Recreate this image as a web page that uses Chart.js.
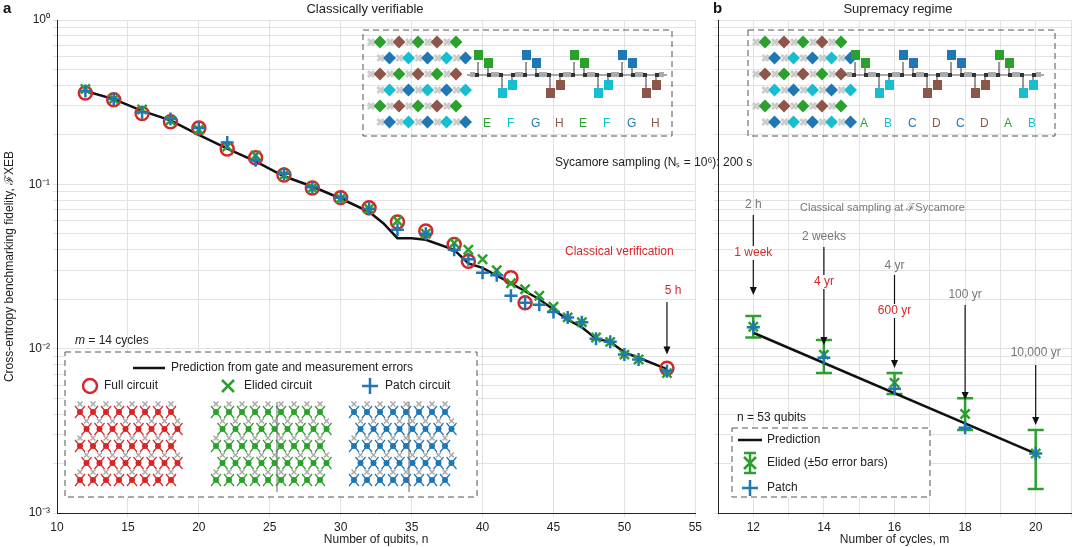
<!DOCTYPE html>
<html><head><meta charset="utf-8">
<script src="https://cdn.jsdelivr.net/npm/chart.js@4.4.0/dist/chart.umd.min.js"></script>
<style>body{margin:0;background:#fff;width:1080px;height:547px;overflow:hidden;position:relative;font-family:"Liberation Sans",Arial,sans-serif}
#wa{position:absolute;left:0;top:0;width:705px;height:547px}#wb{position:absolute;left:705px;top:0;width:375px;height:547px}</style>
</head><body>
<div id="wa"><canvas id="ca"></canvas></div><div id="wb"><canvas id="cb"></canvas></div>
<script>
const qubitsFull=[12,14,16,18,20,22,24,26,28,30,32,34,36,38,39,42,43,53];
const fullVals=[0.36,0.327,0.27,0.24,0.22,0.164,0.145,0.114,0.095,0.083,0.072,0.059,0.052,0.043,0.034,0.027,0.019,0.0076];
const qubitsElided=[12,14,16,18,20,22,24,26,28,30,32,34,36,38,39,40,41,42,43,44,45,46,47,48,49,50,51,53];
const elidedVals=[0.38,0.33,0.285,0.245,0.215,0.17,0.15,0.114,0.095,0.082,0.071,0.06,0.05,0.044,0.04,0.035,0.030,0.025,0.023,0.021,0.018,0.0155,0.0145,0.0117,0.011,0.0092,0.0086,0.0071];
const qubitsPatch=[12,14,16,18,20,22,24,26,28,30,32,34,36,38,39,40,41,42,43,44,45,46,47,48,49,50,51,53];
const patchVals=[0.37,0.33,0.275,0.25,0.22,0.18,0.14,0.116,0.096,0.083,0.071,0.053,0.05,0.04,0.035,0.029,0.028,0.021,0.019,0.0185,0.0167,0.0155,0.0145,0.0115,0.011,0.0092,0.0086,0.0073];
const qubitsPred=[12,14,16,18,20,22,24,26,28,30,32,33,34,35,36,38,39,40,42,44,46,47,48,49,50,51,53];
const predVals=[0.37,0.33,0.28,0.245,0.20,0.165,0.138,0.112,0.097,0.082,0.068,0.058,0.047,0.047,0.046,0.040,0.033,0.031,0.025,0.020,0.015,0.0135,0.0115,0.011,0.0095,0.0088,0.0075];
const cycles=[12,14,16,18,20];
const elidedCyc=[0.0136,0.0092,0.0062,0.0040,0.0023];
const elidedLo=[0.0117,0.0071,0.0053,0.0032,0.0014];
const elidedHi=[0.0158,0.0113,0.0071,0.0050,0.0032];
const patchCyc=[0.0135,0.0088,0.0057,0.0033,0.0023];
const predCyc=[0.0125,0.0023];
const predCycX=[12,20];
const yTicks={1:'10⁰',0.1:'10⁻¹',0.01:'10⁻²',0.001:'10⁻³'};

const G='#2ca02c',C='#17becf',B='#1f77b4',R='#d62728',BR='#8c564b';
const pts=(xs,ys)=>xs.map((x,i)=>({x,y:ys[i]}));
Chart.defaults.font.family='"Liberation Sans",Arial,sans-serif';
Chart.defaults.color='#222';

function dash(ctx,x,y,w,h){ctx.save();ctx.setLineDash([6,4]);ctx.strokeStyle='#555';ctx.lineWidth=1;ctx.strokeRect(x,y,w,h);ctx.restore();}
function txt(ctx,s,x,y,col,size,align,font){ctx.save();ctx.fillStyle=col||'#222';ctx.font=(font||'')+' '+(size||12)+'px "Liberation Sans",Arial,sans-serif';ctx.textAlign=align||'left';ctx.textBaseline='middle';ctx.fillText(s,x,y);ctx.restore();}
function arrow(ctx,x,y1,y2){ctx.save();ctx.strokeStyle='#111';ctx.fillStyle='#111';ctx.lineWidth=1.2;ctx.beginPath();ctx.moveTo(x,y1);ctx.lineTo(x,y2-6);ctx.stroke();ctx.beginPath();ctx.moveTo(x,y2);ctx.lineTo(x-3.5,y2-8);ctx.lineTo(x+3.5,y2-8);ctx.closePath();ctx.fill();ctx.restore();}
function diamond(ctx,x,y,s,col){ctx.fillStyle=col;ctx.beginPath();ctx.moveTo(x,y-s);ctx.lineTo(x+s,y);ctx.lineTo(x,y+s);ctx.lineTo(x-s,y);ctx.closePath();ctx.fill();}
function xmark(ctx,x,y,s,col,w){ctx.strokeStyle=col;ctx.lineWidth=w||2;ctx.beginPath();ctx.moveTo(x-s,y-s);ctx.lineTo(x+s,y+s);ctx.moveTo(x+s,y-s);ctx.lineTo(x-s,y+s);ctx.stroke();}
function grid(ctx,gx,gy){const cols=[G,B,BR,C];ctx.save();
 for(let r=0;r<6;r++)for(let c=0;c<5;c++){const x=gx+c*19+(r%2)*9.5,y=gy+r*16;xmark(ctx,x-9,y,3,'#ccc',3);}
 for(let r=0;r<6;r++)for(let c=0;c<5;c++){const x=gx+c*19+(r%2)*9.5,y=gy+r*16;diamond(ctx,x,y,6.5,cols[(r+c*2)%4]);}
 ctx.restore();}
function circuit(ctx,x0,letters,map){ctx.save();ctx.strokeStyle='#555';ctx.lineWidth=1;ctx.beginPath();ctx.moveTo(x0-16,75);ctx.lineTo(x0+24*7+16,75);ctx.stroke();
 for(let i=0;i<8;i++){const x=x0+i*24;ctx.fillStyle='#aaa';ctx.fillRect(x-13,72,5,5);ctx.fillRect(x+8,72,5,5);
  const col=map[letters[i]];const up=(i%2==0);ctx.strokeStyle='#333';ctx.beginPath();
  ctx.moveTo(x-5,75);ctx.lineTo(x-5,up?62:88);ctx.moveTo(x+5,75);ctx.lineTo(x+5,up?62:88);ctx.stroke();
  ctx.fillStyle=col;ctx.fillRect(x-9,up?50:88,9,10);ctx.fillRect(x+1,up?58:80,9,10);
  ctx.fillStyle='#333';ctx.fillRect(x-8,73,4,4);ctx.fillRect(x+4,73,4,4);
  txt(ctx,letters[i],x,124,col,12);}
 ctx.restore();}
function lattice(ctx,x0,y0,col,cols,split){ctx.save();for(let r=0;r<5;r++)for(let c=0;c<cols;c++){const x=x0+c*13+(r%2)*6.5,y=y0+r*17;xmark(ctx,x,y-8,2.5,'#aaa',1.5);}
 for(let r=0;r<5;r++)for(let c=0;c<cols;c++){const x=x0+c*13+(r%2)*6.5,y=y0+r*17;ctx.fillStyle=col;ctx.beginPath();ctx.arc(x,y,3,0,7);ctx.fill();ctx.strokeStyle=col;ctx.lineWidth=1.2;ctx.beginPath();ctx.moveTo(x-5,y+6);ctx.lineTo(x+5,y-6);ctx.moveTo(x-5,y-6);ctx.lineTo(x+5,y+6);ctx.stroke();}
 if(split){ctx.strokeStyle='#666';ctx.lineWidth=1;ctx.beginPath();ctx.moveTo(split,y0-10);ctx.lineTo(split,y0+80);ctx.stroke();}
 ctx.restore();}

const logY=(show,w)=>({type:'logarithmic',min:0.001,max:1,
  ticks:{display:show,autoSkip:false,font:{size:12},color:'#222',callback:v=>yTicks[v]||''},
  afterBuildTicks:s=>{const t=[];for(let e=-3;e<0;e++)for(let k=1;k<10;k++)t.push({value:k*Math.pow(10,e)});t.push({value:1});s.ticks=t;},
  grid:{color:'#e2e2e2',drawTicks:true,tickLength:4},border:{color:'#222'},
  title:{display:show,text:'Cross-entropy benchmarking fidelity, ℱXEB',font:{size:12},padding:2},
  afterFit:s=>{s.width=w;}});

const plugA={id:'a',afterDraw(ch){const ctx=ch.ctx,xs=ch.scales.x,ys=ch.scales.y;
 txt(ctx,'a',3,9,'#111',15,'left','bold');txt(ctx,'Classically verifiable',365,9,'#222',13,'center');
 dash(ctx,363,30,309,106);grid(ctx,380,42);circuit(ctx,483,'EFGHEFGH',{E:G,F:C,G:B,H:BR});
 txt(ctx,'Classical verification',565,252,R,12,'left');txt(ctx,'5 h',673,291,R,12,'center');arrow(ctx,xs.getPixelForValue(53),302,ys.getPixelForValue(0.0092));
 ctx.save();ctx.font='italic 12px "Liberation Sans",Arial';ctx.fillStyle='#222';ctx.textBaseline='middle';ctx.fillText('m',75,341);ctx.font='12px "Liberation Sans",Arial';ctx.fillText(' = 14 cycles',85,341);ctx.restore();
 ctx.save();ctx.fillStyle='#fff';ctx.fillRect(65,352,412,145);ctx.restore();dash(ctx,65,352,412,145);
 ctx.save();ctx.strokeStyle='#111';ctx.lineWidth=2.5;ctx.beginPath();ctx.moveTo(133,368);ctx.lineTo(165,368);ctx.stroke();ctx.restore();
 txt(ctx,'Prediction from gate and measurement errors',171,368,'#222',12);
 ctx.save();ctx.strokeStyle=R;ctx.lineWidth=2.5;ctx.beginPath();ctx.arc(90,386,7,0,7);ctx.stroke();xmark(ctx,228,386,6,G,2.5);
 ctx.strokeStyle=B;ctx.beginPath();ctx.moveTo(362,386);ctx.lineTo(378,386);ctx.moveTo(370,378);ctx.lineTo(370,394);ctx.stroke();ctx.restore();
 txt(ctx,'Full circuit',104,386,'#222',12);txt(ctx,'Elided circuit',244,386,'#222',12);txt(ctx,'Patch circuit',385,386,'#222',12);
 lattice(ctx,80,412,R,8,0);lattice(ctx,216,412,G,9,277);lattice(ctx,354,412,B,8,409);
}};
const plugB={id:'b',beforeDatasetsDraw(ch){const ctx=ch.ctx,xs=ch.scales.x,ys=ch.scales.y;ctx.save();ctx.strokeStyle=G;ctx.lineWidth=2.5;
 cycles.forEach((c,i)=>{const x=xs.getPixelForValue(c),a=ys.getPixelForValue(elidedLo[i]),b=ys.getPixelForValue(elidedHi[i]);ctx.beginPath();ctx.moveTo(x,a);ctx.lineTo(x,b);ctx.moveTo(x-8,a);ctx.lineTo(x+8,a);ctx.moveTo(x-8,b);ctx.lineTo(x+8,b);ctx.stroke();});ctx.restore();},
 afterDraw(ch){const ctx=ch.ctx,xs=ch.scales.x;const o=-705;
 txt(ctx,'b',713+o,9,'#111',15,'left','bold');txt(ctx,'Supremacy regime',898+o,9,'#222',13,'center');
 dash(ctx,748+o,30,307,106);ctx.save();ctx.translate(o,0);grid(ctx,765,42);circuit(ctx,860,'ABCDCDAB',{A:G,B:C,C:B,D:BR});ctx.restore();
 const X=v=>xs.getPixelForValue(v);
 txt(ctx,'Classical sampling at ℱSycamore',800+o,208,'#777',11,'left');
 const ann=[[12,'2 h',205,'1 week',253,215,295],[14,'2 weeks',237,'4 yr',282,247,345],[16,'4 yr',266,'600 yr',311,275,368],[18,'100 yr',295,null,0,305,400],[20,'10,000 yr',353,null,0,365,425]];
 ann.forEach(a=>{txt(ctx,a[1],X(a[0]),a[2],'#777',12,'center');arrow(ctx,X(a[0]),a[5],a[6]);if(a[3]){ctx.save();ctx.font='12px "Liberation Sans",Arial';const w=ctx.measureText(a[3]).width;ctx.fillStyle='#fff';ctx.fillRect(X(a[0])-w/2-1,a[4]-7,w+2,14);ctx.restore();txt(ctx,a[3],X(a[0]),a[4],R,12,'center');}});
 txt(ctx,'n = 53 qubits',737+o,418,'#222',12);
 ctx.save();ctx.fillStyle='#fff';ctx.fillRect(732+o,428,198,69);ctx.restore();dash(ctx,732+o,428,198,69);
 ctx.save();ctx.strokeStyle='#111';ctx.lineWidth=2.5;ctx.beginPath();ctx.moveTo(738+o,440);ctx.lineTo(762+o,440);ctx.stroke();
 ctx.strokeStyle=G;ctx.beginPath();ctx.moveTo(750+o,453);ctx.lineTo(750+o,473);ctx.moveTo(744+o,453);ctx.lineTo(756+o,453);ctx.moveTo(744+o,473);ctx.lineTo(756+o,473);ctx.stroke();xmark(ctx,750+o,463,6,G,2.5);
 ctx.strokeStyle=B;ctx.beginPath();ctx.moveTo(742+o,488);ctx.lineTo(758+o,488);ctx.moveTo(750+o,480);ctx.lineTo(750+o,496);ctx.stroke();ctx.restore();
 txt(ctx,'Prediction',767+o,440,'#222',12);txt(ctx,'Elided (±5σ error bars)',767+o,463,'#222',12);txt(ctx,'Patch',767+o,488,'#222',12);
}};
const plugS={id:'s',afterDraw(ch){txt(ch.ctx,'Sycamore sampling (Nₛ = 10⁶): 200 s',555,163,'#222',12,'left');}};
const plugS2={id:'s2',afterDraw(ch){txt(ch.ctx,'Sycamore sampling (Nₛ = 10⁶): 200 s',555-705,163,'#222',12,'left');}};

const xAx=(min,max,step,title,lo,hi,even)=>({type:'linear',min,max,ticks:{stepSize:step,font:{size:12},color:'#222',autoSkip:false,callback:v=>(v>=lo&&v<=hi&&(!even||v%2==0))?v:''},
 grid:{color:'#e2e2e2',tickLength:4},border:{color:'#222'},title:{display:true,text:title,font:{size:12},padding:{top:0,bottom:0}},afterFit:s=>{s.height=34;}});
const ds=(label,data,style,col,extra)=>Object.assign({label,data,type:'scatter',pointStyle:style,pointRadius:6.5,pointHoverRadius:6.5,borderColor:col,backgroundColor:'rgba(0,0,0,0)',pointBorderWidth:2.5,showLine:false},extra||{});

new Chart(document.getElementById('ca'),{type:'scatter',data:{datasets:[
 {label:'Prediction',data:pts(qubitsPred,predVals),type:'line',borderColor:'#111',borderWidth:2.5,pointRadius:0,fill:false,order:4},
 ds('Full',pts(qubitsFull,fullVals),'circle',R,{order:3}),
 ds('Elided',pts(qubitsElided,elidedVals),'crossRot',G,{order:2}),
 ds('Patch',pts(qubitsPatch,patchVals),'cross',B,{order:1})]},
 options:{responsive:true,maintainAspectRatio:false,animation:false,layout:{padding:{top:20,right:5,left:0,bottom:0}},
 plugins:{legend:{display:false},tooltip:{enabled:false}},
 scales:{x:xAx(10,55,5,'Number of qubits, n',10,55,false),y:logY(true,57)}},plugins:[plugA,plugS]});

new Chart(document.getElementById('cb'),{type:'scatter',data:{datasets:[
 {label:'Prediction',data:pts(predCycX,predCyc),type:'line',borderColor:'#111',borderWidth:2.5,pointRadius:0,fill:false,order:3},
 ds('Elided',pts(cycles,elidedCyc),'crossRot',G,{order:2}),
 ds('Patch',pts(cycles,patchCyc),'cross',B,{order:1})]},
 options:{responsive:true,maintainAspectRatio:false,animation:false,layout:{padding:{top:20,right:1,left:0,bottom:0}},
 plugins:{legend:{display:false},tooltip:{enabled:false}},
 scales:{x:xAx(11,21,1,'Number of cycles, m',12,20,true),y:logY(false,13)}},plugins:[plugB,plugS2]});
</script></body></html>
